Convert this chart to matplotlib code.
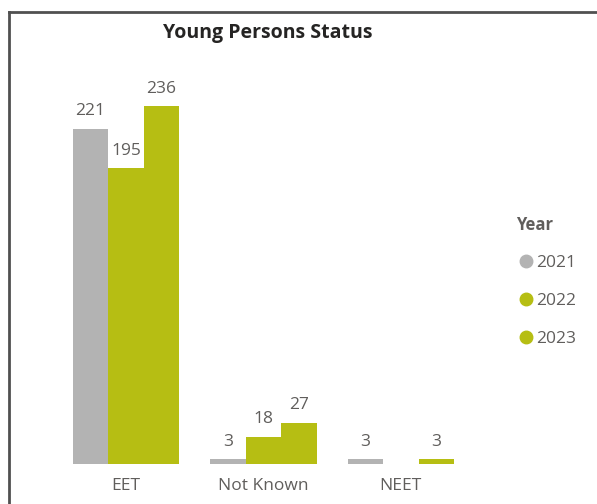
import numpy as np
import matplotlib.pyplot as plt
from matplotlib.lines import Line2D

# Data
categories = ['EET', 'Not Known', 'NEET']
years = ['2021', '2022', '2023']
values_2021 = [221, 3, 3]
values_2022 = [195, 18, np.nan]
values_2023 = [236, 27, 3]
series = [values_2021, values_2022, values_2023]
colors = ['#B3B3B3', '#B6BE13', '#B6BE13']

plt.rcParams['font.family'] = ['Open Sans', 'DejaVu Sans']

fig = plt.figure(figsize=(5.97, 5.04), dpi=100)
ax = fig.add_axes([40 / 597, 40 / 504, 435 / 597, 394 / 504])

x = np.arange(len(categories))
width = 0.258
for i, (vals, col) in enumerate(zip(series, colors)):
    pos = x + (i - 1) * width
    ax.bar(pos, vals, width=width, color=col)
    for p, v in zip(pos, vals):
        if np.isnan(v):
            continue
        ax.annotate(f'{v:g}', (p, v), xytext=(0, 7), textcoords='offset points',
                    ha='center', va='bottom', fontsize=12.5, color='#605E5C')

ax.set_xlim(-0.625, 2.54)
ax.set_ylim(0, 260)
ax.set_xticks(x)
ax.set_xticklabels(categories, fontsize=12.5, color='#605E5C')
ax.tick_params(axis='x', length=0, pad=10)
ax.set_yticks([])
for s in ax.spines.values():
    s.set_visible(False)

fig.text(268 / 597, 1 - 33 / 504, 'Young Persons Status', ha='center', va='center',
         fontsize=14, fontweight='bold', color='#252423')

handles = [Line2D([], [], marker='o', linestyle='none', markersize=9,
                  markerfacecolor=c, markeredgecolor=c) for c in colors]
leg = fig.legend(handles, years, title='Year', loc='upper left',
                 bbox_to_anchor=(500 / 597, 1 - 200 / 504), frameon=False,
                 fontsize=12.5, labelspacing=1.25, handletextpad=0.0,
                 handlelength=1.2, alignment='left')
leg.get_title().set_fontsize(12)
leg.get_title().set_fontweight('bold')
leg.get_title().set_color('#605E5C')
for t in leg.get_texts():
    t.set_color('#605E5C')

# Frame lines at the left and top
fig.add_artist(Line2D([9 / 597, 9 / 597], [0, 1 - 12 / 504], color='#505050', linewidth=2))
fig.add_artist(Line2D([9 / 597, 1], [1 - 12 / 504, 1 - 12 / 504], color='#505050', linewidth=2))

fig.savefig('out.png', dpi=100)
